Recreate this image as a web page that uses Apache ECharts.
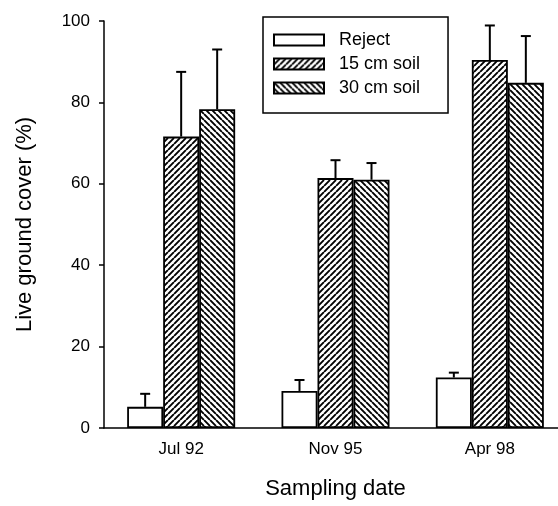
<!DOCTYPE html>
<html>
<head>
<meta charset="utf-8">
<script src="https://cdn.jsdelivr.net/npm/echarts@6/dist/echarts.min.js"></script>
<style>html,body{margin:0;padding:0;background:#fff;}#c{width:558px;height:506px;}</style>
</head>
<body>
<div id="c"></div>
<script>
const categories = ['Jul 92', 'Nov 95', 'Apr 98'];
const seriesNames = ['Reject', '15 cm soil', '30 cm soil'];
const rejectValues = [5.2, 9.1, 12.4];
const soil15Values = [71.6, 61.4, 90.4];
const soil30Values = [78.3, 61.0, 84.8];
const rejectErrTop = [8.4, 11.8, 13.6];
const soil15ErrTop = [87.5, 65.8, 98.9];
const soil30ErrTop = [93.0, 65.1, 96.3];
const yMin = 0, yMax = 100, yStep = 20;

function hatch(dir) {
  const s = 6;
  const c = document.createElement('canvas');
  c.width = s; c.height = s;
  const g = c.getContext('2d');
  g.fillStyle = '#fff'; g.fillRect(0, 0, s, s);
  g.strokeStyle = '#000'; g.lineWidth = 1.9;
  g.beginPath();
  for (let k = -1; k <= 1; k++) {
    if (dir === '/') { g.moveTo(k * s, s); g.lineTo(k * s + s, 0); }
    else { g.moveTo(k * s, 0); g.lineTo(k * s + s, s); }
  }
  g.stroke();
  return { image: c, repeat: 'repeat' };
}

const font = 'Liberation Sans, Arial, sans-serif';
const BW = 36;
const fills = ['#ffffff', hatch('/'), hatch('\\')];
const values = [rejectValues, soil15Values, soil30Values];
const errs = [rejectErrTop, soil15ErrTop, soil30ErrTop];
const offsets = [-BW, 0, BW];

const series = [];
seriesNames.forEach((n, i) => {
  series.push({
    name: n, type: 'bar', data: values[i], barWidth: BW, barGap: '0%',
    itemStyle: { color: fills[i], borderColor: '#000', borderWidth: 1.8 },
    z: 2
  });
});
seriesNames.forEach((n, i) => {
  series.push({
    name: n + ' err', type: 'custom', z: 3,
    data: categories.map((c, j) => [j, values[i][j], errs[i][j]]),
    renderItem: function (params, api) {
      const b = api.coord([api.value(0), api.value(1)]);
      const t = api.coord([api.value(0), api.value(2)]);
      const x = b[0] + offsets[i];
      const st = { stroke: '#000', lineWidth: 2 };
      return { type: 'group', children: [
        { type: 'line', shape: { x1: x, y1: b[1], x2: x, y2: t[1] }, style: st },
        { type: 'line', shape: { x1: x - 5, y1: t[1], x2: x + 5, y2: t[1] }, style: st }
      ]};
    }
  });
});

const chart = echarts.init(document.getElementById('c'), null, { renderer: 'canvas' });
chart.setOption({
  animation: false,
  backgroundColor: '#fff',
  textStyle: { fontFamily: font, color: '#000' },
  grid: { left: 104, width: 463, top: 21, bottom: 78, containLabel: false, outerBoundsMode: 'none' },
  legend: {
    data: seriesNames, orient: 'vertical', left: 263, top: 17,
    padding: [14, 28, 16, 10], itemGap: 6, itemWidth: 50, itemHeight: 11,
    borderColor: '#000', borderWidth: 1.5, borderRadius: 0,
    icon: 'rect',
    textStyle: { fontSize: 18, lineHeight: 18, fontFamily: font, color: '#000', padding: [0, 0, 0, 10] },
    selectedMode: false
  },
  xAxis: {
    type: 'category', data: categories,
    name: 'Sampling date', nameLocation: 'middle', nameGap: 50,
    nameTextStyle: { fontSize: 22, fontFamily: font, color: '#000' },
    axisLine: { lineStyle: { color: '#000', width: 1.5 } },
    axisTick: { alignWithLabel: true, length: 5, lineStyle: { color: '#000', width: 1.5 } },
    axisLabel: { fontSize: 17, fontFamily: font, color: '#000', margin: 13 }
  },
  yAxis: {
    type: 'value', min: yMin, max: yMax, interval: yStep,
    name: 'Live ground cover (%)', nameLocation: 'middle', nameGap: 68,
    nameTextStyle: { fontSize: 22, fontFamily: font, color: '#000' },
    axisLine: { show: true, lineStyle: { color: '#000', width: 1.5 } },
    axisTick: { show: true, length: 5, lineStyle: { color: '#000', width: 1.5 } },
    axisLabel: { fontSize: 17, fontFamily: font, color: '#000', margin: 14 },
    splitLine: { show: false }
  },
  series: series
});
</script>
</body>
</html>
